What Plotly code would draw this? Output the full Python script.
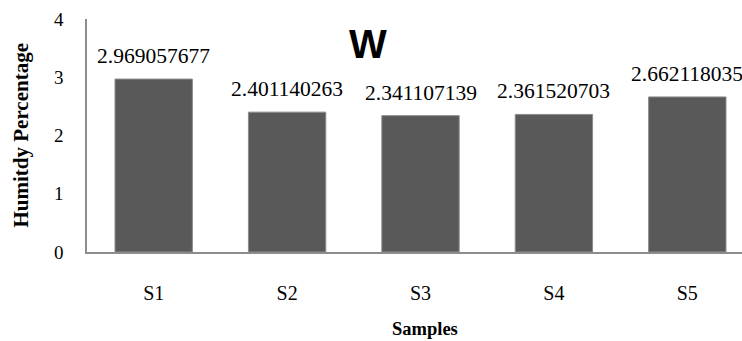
import plotly.graph_objects as go

categories = ["S1", "S2", "S3", "S4", "S5"]
values = [2.969057677, 2.401140263, 2.341107139, 2.361520703, 2.662118035]
value_labels = ["2.969057677", "2.401140263", "2.341107139", "2.361520703", "2.662118035"]
y_ticks = [0, 1, 2, 3, 4]

serif = "Times New Roman, Liberation Serif, serif"

fig = go.Figure()
fig.add_trace(go.Bar(
    x=categories, y=values, width=0.58,
    marker=dict(color="#595959", line=dict(color="#8c8c8c", width=1)),
    hoverinfo="skip",
))

for c, v, t in zip(categories, values, value_labels):
    fig.add_annotation(x=c, y=v, text=t, showarrow=False, yanchor="bottom",
                       yshift=9, font=dict(family=serif, size=21.5, color="#000"))

fig.add_annotation(xref="paper", yref="paper", x=0.429, y=0.893, text="<b>W</b>",
                   showarrow=False, xanchor="center", yanchor="middle",
                   font=dict(family="Liberation Sans, Arial, sans-serif", size=40, color="#000"))
fig.add_annotation(xref="paper", yref="paper", x=0, y=0.5, xshift=-67, text="<b>Humitdy Percentage</b>",
                   textangle=-90, showarrow=False, xanchor="center", yanchor="middle",
                   font=dict(family=serif, size=21, color="#000"))
fig.add_annotation(xref="paper", yref="paper", x=0.516, y=0, yshift=-77, text="<b>Samples</b>",
                   showarrow=False, xanchor="center", yanchor="middle",
                   font=dict(family=serif, size=18.5, color="#000"))

fig.update_layout(
    width=742, height=341,
    margin=dict(l=87, r=0, t=19, b=89),
    paper_bgcolor="white", plot_bgcolor="white",
    showlegend=False,
    xaxis=dict(range=[-0.5, 4.41], showline=True, linecolor="#8c8c8c", linewidth=1.5,
               showgrid=False, ticks="", ticklabelstandoff=22,
               tickfont=dict(family=serif, size=20, color="#000"), fixedrange=True),
    yaxis=dict(range=[0, 4], tickvals=y_ticks, showline=True, linecolor="#8c8c8c", linewidth=1.5,
               showgrid=False, ticks="", zeroline=False, ticklabelstandoff=18,
               tickfont=dict(family=serif, size=19, color="#000"), fixedrange=True),
)

fig.write_html("out.html")
